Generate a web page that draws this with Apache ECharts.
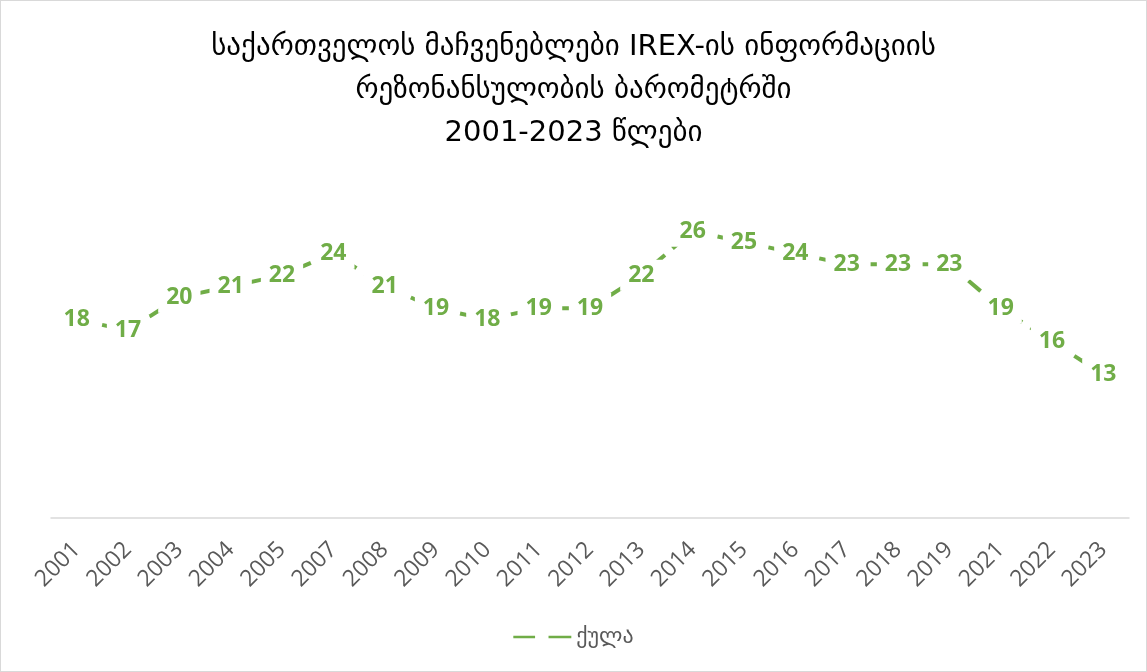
<!DOCTYPE html>
<html><head><meta charset="utf-8">
<script src="https://cdn.jsdelivr.net/npm/echarts@6/dist/echarts.min.js"></script>
<style>html,body{margin:0;padding:0;background:#fff}#c{width:1147px;height:672px;box-sizing:border-box;border:1px solid #d9d9d9}</style>
</head><body><div id="c"></div>
<script>
const titleText = "საქართველოს მაჩვენებლები IREX-ის ინფორმაციის\nრეზონანსულობის ბარომეტრში\n2001-2023 წლები";
const years = ["2001","2002","2003","2004","2005","2007","2008","2009","2010","2011","2012","2013","2014","2015","2016","2017","2018","2019","2021","2022","2023"];
const seriesName = "ქულა";
const scores = [18,17,20,21,22,24,21,19,18,19,19,22,26,25,24,23,23,23,19,16,13];

const chart = echarts.init(document.getElementById('c'));
chart.setOption({
  animation: false,
  title: {
    text: titleText, left: 'center', top: 20,
    textStyle: {fontFamily: '"DejaVu Sans", "Noto Sans", sans-serif', fontWeight: 'normal', fontSize: 29, lineHeight: 43, color: '#000'}
  },
  legend: {
    bottom: 18, left: 'center', itemWidth: 58, itemHeight: 10, itemGap: 4,
    textStyle: {fontFamily: '"DejaVu Sans", sans-serif', fontSize: 22, color: '#595959'},
    data: [{name: seriesName, icon: 'path://M0,4 L21,4 L21,6.5 L0,6.5 Z M34,4 L56,4 L56,6.5 L34,6.5 Z', itemStyle: {color: '#70AD47'}}]
  },
  grid: {left: 50, right: 17, top: 186, bottom: 153},
  xAxis: {
    type: 'category', data: years, boundaryGap: true,
    axisLine: {lineStyle: {color: '#D9D9D9', width: 1.5}},
    axisTick: {show: false},
    axisLabel: {rotate: 45, interval: 0, color: '#595959', fontSize: 23, fontFamily: '"Open Sans", "Liberation Sans", sans-serif', margin: 28}
  },
  yAxis: {type: 'value', min: 0, max: 30, show: false, splitLine: {show: false}},
  series: [{
    name: seriesName, type: 'line', data: scores, symbol: 'circle', symbolSize: 0.1, showSymbol: true,
    lineStyle: {color: '#70AD47', width: 4, type: [16, 10]},
    itemStyle: {color: '#70AD47'},
    label: {
      show: true, position: 'inside', color: '#70AD47', fontWeight: 'bold', fontSize: 23,
      fontFamily: '"Open Sans", "Liberation Sans", sans-serif',
      backgroundColor: '#fff', padding: [4, 8]
    }
  }]
});
</script></body></html>
